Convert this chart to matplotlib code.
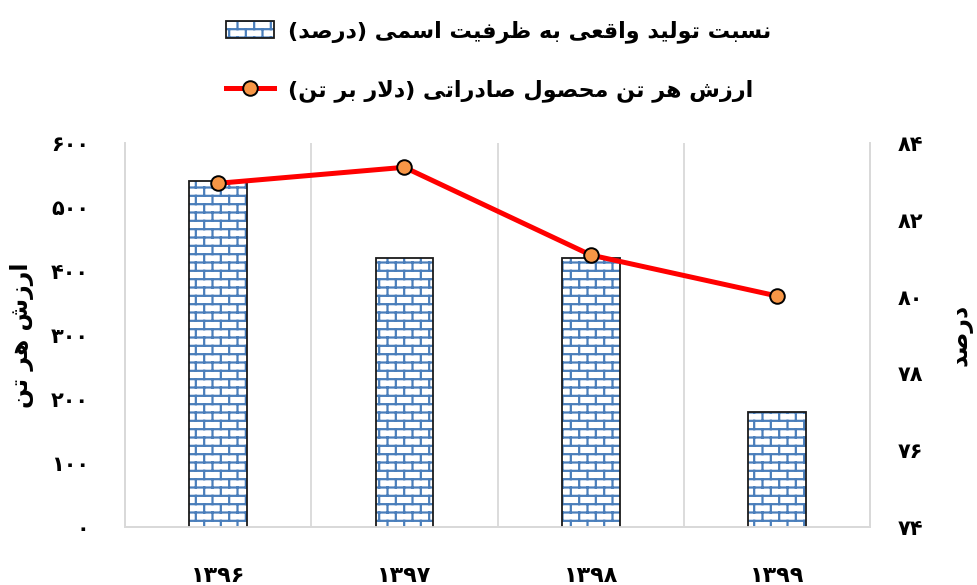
import numpy as np
import matplotlib
matplotlib.use("Agg")
import matplotlib.pyplot as plt
from matplotlib import hatch as mhatch
from matplotlib.patches import Patch
from matplotlib.lines import Line2D
from matplotlib.legend_handler import HandlerTuple
from matplotlib import font_manager, ft2font

# ---------------- data ----------------
years = ["1396", "1397", "1398", "1399"]
capacity_pct = [83, 81, 81, 77]          # bars, right axis (درصد)
value_per_ton = [537, 562, 425, 361]     # line, left axis (دلار بر تن)
left_ticks = [0, 100, 200, 300, 400, 500, 600]
right_ticks = [74, 76, 78, 80, 82, 84]

label_bar = "نسبت تولید واقعی به ظرفیت اسمی (درصد)"
label_line = "ارزش هر تن محصول صادراتی (دلار بر تن)"
ylabel_left = "ارزش هر تن"
ylabel_right = "درصد"

# ---------------- simple Persian shaping ----------------
FONT = "DejaVu Sans"
_fp = font_manager.FontProperties(family=FONT, weight="bold")
_ft = ft2font.FT2Font(font_manager.findfont(_fp))
has_farsi_yeh = _ft.get_char_index(0xFBFC) != 0

FORMS = {  # isolated, final, initial, medial
    "\u0627": (0xFE8D, 0xFE8E, None, None),
    "\u0628": (0xFE8F, 0xFE90, 0xFE91, 0xFE92),
    "\u062A": (0xFE95, 0xFE96, 0xFE97, 0xFE98),
    "\u062D": (0xFEA1, 0xFEA2, 0xFEA3, 0xFEA4),
    "\u062F": (0xFEA9, 0xFEAA, None, None),
    "\u0631": (0xFEAD, 0xFEAE, None, None),
    "\u0632": (0xFEAF, 0xFEB0, None, None),
    "\u0633": (0xFEB1, 0xFEB2, 0xFEB3, 0xFEB4),
    "\u0634": (0xFEB5, 0xFEB6, 0xFEB7, 0xFEB8),
    "\u0635": (0xFEB9, 0xFEBA, 0xFEBB, 0xFEBC),
    "\u0638": (0xFEC5, 0xFEC6, 0xFEC7, 0xFEC8),
    "\u0639": (0xFEC9, 0xFECA, 0xFECB, 0xFECC),
    "\u0641": (0xFED1, 0xFED2, 0xFED3, 0xFED4),
    "\u0642": (0xFED5, 0xFED6, 0xFED7, 0xFED8),
    "\u0644": (0xFEDD, 0xFEDE, 0xFEDF, 0xFEE0),
    "\u0645": (0xFEE1, 0xFEE2, 0xFEE3, 0xFEE4),
    "\u0646": (0xFEE5, 0xFEE6, 0xFEE7, 0xFEE8),
    "\u0647": (0xFEE9, 0xFEEA, 0xFEEB, 0xFEEC),
    "\u0648": (0xFEED, 0xFEEE, None, None),
    "\u06CC": ((0xFBFC, 0xFBFD, 0xFBFE, 0xFBFF) if has_farsi_yeh
               else (0xFEEF, 0xFEF0, 0xFEF3, 0xFEF4)),
}


def dual(c):
    return c in FORMS and FORMS[c][2] is not None


def shape(text):
    out = []
    i = 0
    n = len(text)
    while i < n:
        c = text[i]
        if c not in FORMS:
            out.append(c)
            i += 1
            continue
        prev = text[i - 1] if i > 0 else ""
        jp = dual(prev)
        if c == "\u0644" and i + 1 < n and text[i + 1] == "\u0627":
            out.append(chr(0xFEFC if jp else 0xFEFB))
            i += 2
            continue
        nxt = text[i + 1] if i + 1 < n else ""
        jn = dual(c) and nxt in FORMS
        f = FORMS[c]
        if jp and jn:
            code = f[3]
        elif jp:
            code = f[1]
        elif jn:
            code = f[2]
        else:
            code = f[0]
        out.append(chr(code))
        i += 1
    s = "".join(out)[::-1]
    return s.translate(str.maketrans("()", ")("))


FA_DIGITS = str.maketrans("0123456789", "۰۱۲۳۴۵۶۷۸۹")


def fa(v):
    return str(v).translate(FA_DIGITS)


# ---------------- brick hatch ----------------
class BrickHatch(mhatch.HatchPatternBase):
    def __init__(self, hatch, density):
        self.on = "+" in hatch
        self.R = 12
        self.C = 6
        self.num_vertices = 2 * (self.R + (self.R + 1) * self.C) if self.on else 0

    def set_vertices_and_codes(self, vertices, codes):
        R, C = self.R, self.C
        segs = []
        ys = [(k + 0.5) / R for k in range(R)]
        for y in ys:
            segs.append(((0.0, y), (1.0, y)))
        for k in range(R):
            off = (0.25 + 0.5 * (k % 2)) / C
            for j in range(C):
                x = j / C + off
                if k < R - 1:
                    segs.append(((x, ys[k]), (x, ys[k + 1])))
                else:
                    segs.append(((x, ys[k]), (x, 1.0)))
                    segs.append(((x, 0.0), (x, ys[0])))
        v = np.array(segs, dtype=float).reshape(-1, 2)
        vertices[:] = v
        codes[0::2] = matplotlib.path.Path.MOVETO
        codes[1::2] = matplotlib.path.Path.LINETO


mhatch._hatch_types[:] = [BrickHatch]
plt.rcParams["hatch.linewidth"] = 1.6
plt.rcParams["font.family"] = [FONT]
plt.rcParams["font.weight"] = "bold"
plt.rcParams["axes.labelweight"] = "bold"

# ---------------- figure ----------------
fig = plt.figure(figsize=(9.77, 5.85), dpi=100)
ax = fig.add_axes([0.128, 0.0991, 0.7625, 0.6565])
ax2 = ax.twinx()
ax.set_zorder(3)
ax.patch.set_visible(False)

x = np.arange(len(years))
blue = "#4A7EBB"
bw = 0.31
ax2.bar(x, capacity_pct, width=bw, color="white", edgecolor=blue,
        linewidth=0, hatch="+", zorder=2)
ax2.bar(x, capacity_pct, width=bw, fill=False, edgecolor="#1a1a1a",
        linewidth=1.3, zorder=3)
ax2.set_ylim(74, 84)
ax2.set_yticks(right_ticks)
ax2.set_yticklabels([fa(t) for t in right_ticks])

ax.plot(x, value_per_ton, color="#FF0000", linewidth=3.6, marker="o",
        markersize=10.5, markerfacecolor="#F79646", markeredgecolor="black",
        markeredgewidth=1.4, zorder=5, clip_on=False)
ax.set_ylim(0, 600)
ax.set_yticks(left_ticks)
ax.set_yticklabels([fa(t) for t in left_ticks])
ax.set_xlim(-0.5, len(years) - 0.5)
ax.set_xticks(x)
ax.set_xticklabels([fa(y) for y in years])
ax.set_xticks(x[:-1] + 0.5, minor=True)
ax.grid(which="minor", axis="x", color="#D9D9D9", linewidth=1.3)
ax.tick_params(which="both", length=0)
ax.tick_params(axis="x", which="major", labelsize=16, pad=28)
ax.tick_params(axis="y", labelsize=15, pad=26)
ax2.tick_params(axis="y", length=0, labelsize=15, pad=20)

for a in (ax, ax2):
    a.spines["top"].set_visible(False)
    for side in ("left", "right", "bottom"):
        a.spines[side].set_color("#D9D9D9")
        a.spines[side].set_linewidth(1.3)

ax.set_ylabel(shape(ylabel_left), fontsize=17, fontweight="bold",
              rotation=90, labelpad=12)
ax2.set_ylabel(shape(ylabel_right), fontsize=17, fontweight="bold",
               rotation=90, labelpad=18)

h_bar = (Patch(facecolor="white", edgecolor=blue, linewidth=0, hatch="+"),
         Patch(fill=False, edgecolor="#1a1a1a", linewidth=1.3))
h_line = Line2D([], [], color="#FF0000", linewidth=3.6, marker="o",
                markersize=10.5, markerfacecolor="#F79646",
                markeredgecolor="black", markeredgewidth=1.4)
fig.legend([h_bar, h_line], [shape(label_bar), shape(label_line)],
           handler_map={tuple: HandlerTuple(ndivide=1, pad=0)},
           loc="upper center", bbox_to_anchor=(0.51, 1.0), frameon=False,
           markerfirst=True, fontsize=16, labelspacing=1.65,
           handlelength=2.2, handleheight=0.8, handletextpad=0.6,
           numpoints=1)

fig.savefig("out.png", dpi=100)
